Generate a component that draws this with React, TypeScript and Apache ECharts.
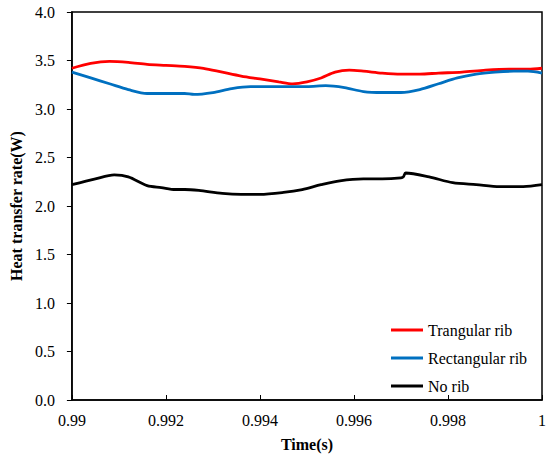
import React, { useEffect, useRef } from "react";
import * as echarts from "echarts";

const redTime = [0.99, 0.9904, 0.9908, 0.9912, 0.9916, 0.992, 0.9924, 0.9928, 0.9932, 0.9936, 0.994, 0.9944, 0.9947, 0.995, 0.9953, 0.9956, 0.9959, 0.9962, 0.9966, 0.997, 0.9974, 0.9978, 0.9983, 0.9988, 0.9993, 0.9997, 1.0];
const redValues = [3.42, 3.47, 3.49, 3.48, 3.46, 3.45, 3.44, 3.42, 3.38, 3.34, 3.31, 3.28, 3.26, 3.28, 3.32, 3.38, 3.4, 3.39, 3.37, 3.36, 3.36, 3.37, 3.38, 3.4, 3.41, 3.41, 3.42];

const blueTime = [0.99, 0.9904, 0.9908, 0.9912, 0.9916, 0.992, 0.9924, 0.9926, 0.993, 0.9934, 0.9938, 0.9942, 0.9946, 0.995, 0.9954, 0.9958, 0.9962, 0.9966, 0.997, 0.9974, 0.9978, 0.9982, 0.9986, 0.999, 0.9994, 0.9997, 1.0];
const blueValues = [3.38, 3.32, 3.26, 3.2, 3.16, 3.16, 3.16, 3.15, 3.17, 3.21, 3.23, 3.23, 3.23, 3.23, 3.24, 3.22, 3.18, 3.17, 3.17, 3.2, 3.26, 3.32, 3.36, 3.38, 3.39, 3.39, 3.37];

const blackTime = [0.99, 0.9905, 0.9909, 0.9912, 0.9916, 0.9919, 0.9922, 0.9924, 0.9927, 0.9932, 0.9936, 0.994, 0.9945, 0.9949, 0.9953, 0.9957, 0.9962, 0.9966, 0.997, 0.99705, 0.9971, 0.9976, 0.9981, 0.9986, 0.9991, 0.9996, 1.0];
const blackValues = [2.22, 2.28, 2.32, 2.3, 2.21, 2.19, 2.17, 2.17, 2.16, 2.13, 2.12, 2.12, 2.14, 2.17, 2.22, 2.26, 2.28, 2.28, 2.29, 2.3, 2.34, 2.3, 2.24, 2.22, 2.2, 2.2, 2.22];

const seriesNames = ["Trangular rib", "Rectangular rib", "No rib"];
const seriesColors = ["#FF0000", "#0070C0", "#000000"];

const FONT = "'Times New Roman', 'Liberation Serif', serif";

function zip(t: number[], v: number[]) {
  return t.map((x, i) => [x, v[i]]);
}

export default function App() {
  const ref = useRef<HTMLDivElement>(null);
  useEffect(() => {
    if (!ref.current) return;
    const chart = echarts.init(ref.current, undefined, { renderer: "svg" });
    const datasets = [zip(redTime, redValues), zip(blueTime, blueValues), zip(blackTime, blackValues)];
    chart.setOption({
      animation: false,
      backgroundColor: "#fff",
      textStyle: { fontFamily: FONT },
      grid: { left: 70, top: 12, right: 7, bottom: 51, show: true, borderColor: "#000", borderWidth: 1.5 },
      legend: {
        orient: "vertical",
        left: 386,
        top: 317,
        itemWidth: 32,
        itemHeight: 3,
        itemGap: 12,
        icon: "rect",
        textStyle: { fontFamily: FONT, fontSize: 16, color: "#000" },
        data: seriesNames,
      },
      xAxis: {
        type: "value",
        min: 0.99,
        max: 1,
        interval: 0.002,
        name: "Time(s)",
        nameLocation: "middle",
        nameGap: 36,
        nameTextStyle: { fontFamily: FONT, fontSize: 16, fontWeight: "bold", color: "#000" },
        axisLine: { lineStyle: { color: "#000", width: 1.5 } },
        axisTick: { inside: true, length: 5, lineStyle: { color: "#000" } },
        axisLabel: {
          fontFamily: FONT,
          fontSize: 16,
          color: "#000",
          margin: 12,
          formatter: (v: number) => String(parseFloat(v.toFixed(3))),
        },
        splitLine: { show: false },
      },
      yAxis: {
        type: "value",
        min: 0,
        max: 4,
        interval: 0.5,
        name: "Heat transfer rate(W)",
        nameLocation: "middle",
        nameGap: 41,
        nameTextStyle: { fontFamily: FONT, fontSize: 16, fontWeight: "bold", color: "#000" },
        axisLine: { show: true, lineStyle: { color: "#000", width: 1.5 } },
        axisTick: { show: true, inside: false, length: 5, lineStyle: { color: "#000" } },
        axisLabel: {
          fontFamily: FONT,
          fontSize: 16,
          color: "#000",
          margin: 17,
          formatter: (v: number) => v.toFixed(1),
        },
        splitLine: { show: false },
      },
      series: seriesNames.map((name, i) => ({
        name,
        type: "line",
        data: datasets[i],
        smooth: 0.3,
        showSymbol: false,
        symbol: "none",
        color: seriesColors[i],
        lineStyle: { color: seriesColors[i], width: 2.8 },
      })),
    });
    return () => chart.dispose();
  }, []);
  return <div ref={ref} style={{ position: "absolute", left: 0, top: 0, width: 549, height: 457 }} />;
}
